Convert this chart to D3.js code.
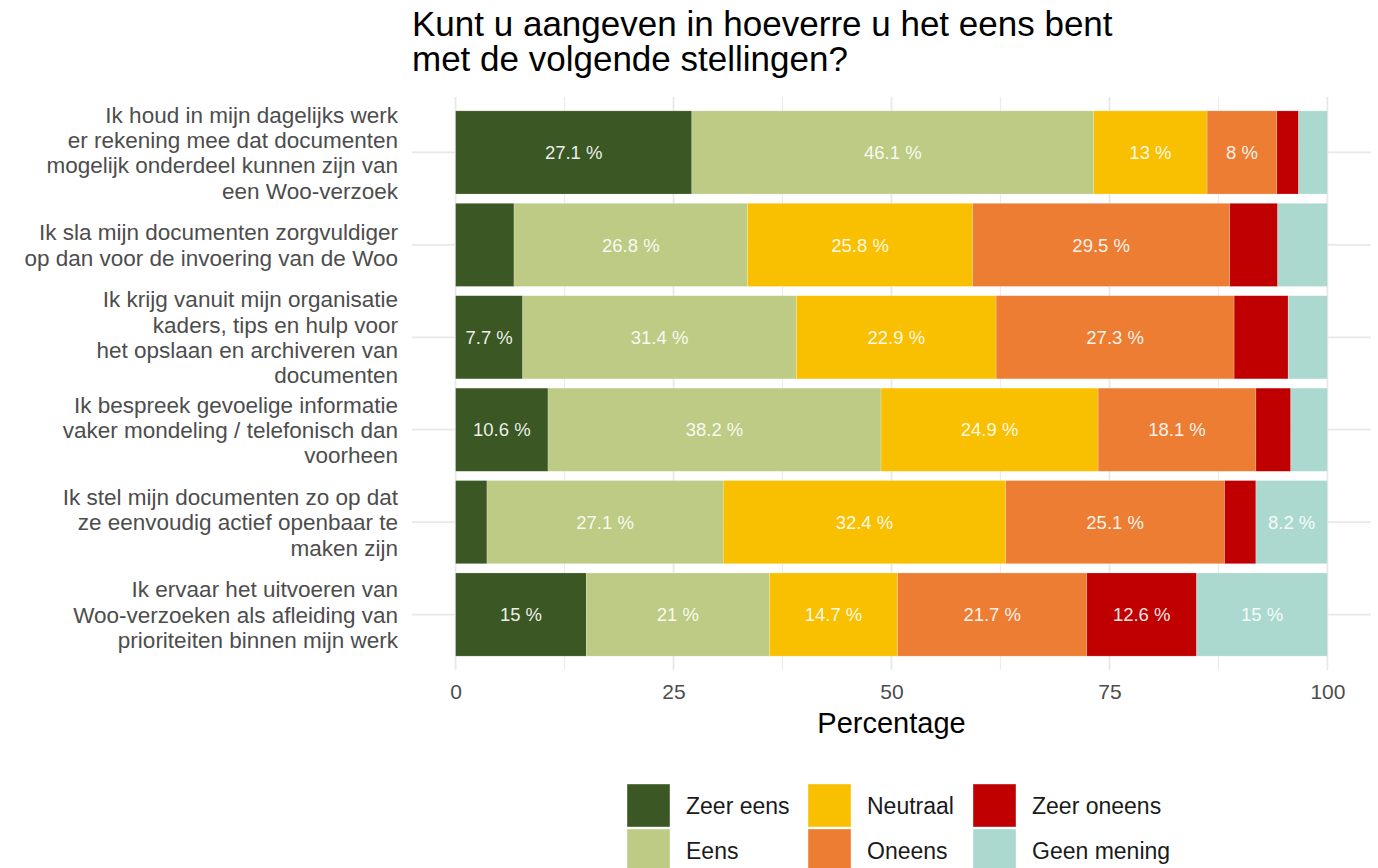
<!DOCTYPE html>
<html>
<head>
<meta charset="utf-8">
<script src="https://cdn.jsdelivr.net/npm/d3@7"></script>
<style>
  body { margin: 0; background: #fff; }
  text { font-family: "Liberation Sans", Arial, sans-serif; }
</style>
</head>
<body>
<svg id="chart" width="1378" height="868"></svg>
<script>
// stellingen (regels zoals in de grafiek afgebroken)
const statements = [
    ["Ik houd in mijn dagelijks werk", "er rekening mee dat documenten", "mogelijk onderdeel kunnen zijn van", "een Woo-verzoek"],
    ["Ik sla mijn documenten zorgvuldiger", "op dan voor de invoering van de Woo"],
    ["Ik krijg vanuit mijn organisatie", "kaders, tips en hulp voor", "het opslaan en archiveren van", "documenten"],
    ["Ik bespreek gevoelige informatie", "vaker mondeling / telefonisch dan", "voorheen"],
    ["Ik stel mijn documenten zo op dat", "ze eenvoudig actief openbaar te", "maken zijn"],
    ["Ik ervaar het uitvoeren van", "Woo-verzoeken als afleiding van", "prioriteiten binnen mijn werk"]
];
const answers = ["Zeer eens", "Eens", "Neutraal", "Oneens", "Zeer oneens", "Geen mening"];
const answerColors = ["#3b5724", "#bdcb84", "#f8c000", "#ec7d33", "#c00000", "#abd9cf"];

// percentages per stelling, volgorde = answers
const zeerEens   = [27.1, 6.7, 7.7, 10.6, 3.6, 15];
const eens       = [46.1, 26.8, 31.4, 38.2, 27.1, 21];
const neutraal   = [13, 25.8, 22.9, 24.9, 32.4, 14.7];
const oneens     = [8, 29.5, 27.3, 18.1, 25.1, 21.7];
const zeerOneens = [2.5, 5.5, 6.2, 4.0, 3.6, 12.6];
const geenMening = [3.3, 5.7, 4.5, 4.2, 8.2, 15];

const xTicks = [0, 25, 50, 75, 100];
const xMinor = [12.5, 37.5, 62.5, 87.5];

const series = [zeerEens, eens, neutraal, oneens, zeerOneens, geenMening];
const rows = statements.map((s, i) => {
    const r = { id: i };
    answers.forEach((a, j) => r[a] = series[j][i]);
    return r;
});

const svg = d3.select("#chart");
const panel = { left: 412, right: 1371, top: 97, bottom: 670 };

// ggplot-achtige uitbreiding van 5% aan beide kanten
const pw = panel.right - panel.left;
const x = d3.scaleLinear()
    .domain([0, 100])
    .range([panel.left + pw * 0.05 / 1.1, panel.right - pw * 0.05 / 1.1]);

const y = d3.scaleBand()
    .domain(rows.map(d => d.id))
    .range([panel.top, panel.bottom])
    .paddingInner(0.1)
    .paddingOuter(0.15);

const color = d3.scaleOrdinal().domain(answers).range(answerColors);

// rasterlijnen
const grid = svg.append("g");
grid.selectAll(".minor").data(xMinor).enter().append("line")
    .attr("x1", d => x(d)).attr("x2", d => x(d))
    .attr("y1", panel.top).attr("y2", panel.bottom)
    .attr("stroke", "#ebebeb").attr("stroke-width", 1.2);
grid.selectAll(".major").data(xTicks).enter().append("line")
    .attr("x1", d => x(d)).attr("x2", d => x(d))
    .attr("y1", panel.top).attr("y2", panel.bottom)
    .attr("stroke", "#e8e8e8").attr("stroke-width", 1.8);
grid.selectAll(".hline").data(rows).enter().append("line")
    .attr("x1", panel.left).attr("x2", panel.right)
    .attr("y1", d => y(d.id) + y.bandwidth() / 2)
    .attr("y2", d => y(d.id) + y.bandwidth() / 2)
    .attr("stroke", "#e8e8e8").attr("stroke-width", 1.8);

// gestapelde balken
const stacked = d3.stack().keys(answers)(rows);

const layers = svg.append("g").selectAll("g")
    .data(stacked)
    .enter().append("g")
    .attr("fill", d => color(d.key));

layers.selectAll("rect")
    .data(d => d)
    .enter().append("rect")
    .attr("x", d => x(d[0]))
    .attr("width", d => x(d[1]) - x(d[0]))
    .attr("y", d => y(d.data.id))
    .attr("height", y.bandwidth())
    .attr("stroke", "#ffffff")
    .attr("stroke-opacity", 0.35)
    .attr("stroke-width", 0.6);

layers.selectAll("text")
    .data(d => d.filter(p => p[1] - p[0] > 7))
    .enter().append("text")
    .attr("x", d => x((d[0] + d[1]) / 2))
    .attr("y", d => y(d.data.id) + y.bandwidth() / 2)
    .attr("dy", "0.36em")
    .attr("text-anchor", "middle")
    .attr("fill", "#ffffff")
    .attr("fill-opacity", 0.92)
    .style("font-size", "18.5px")
    .text(d => `${+(d[1] - d[0]).toFixed(1)} %`);

// x-as
const xAxis = svg.append("g")
    .attr("transform", `translate(0,${panel.bottom})`)
    .call(d3.axisBottom(x).tickValues(xTicks).tickSize(0).tickPadding(14).tickFormat(d3.format("d")));
xAxis.select(".domain").remove();
xAxis.selectAll("text")
    .style("font-size", "21px")
    .attr("fill", "#4d4d4d");

svg.append("text")
    .attr("x", (panel.left + panel.right) / 2)
    .attr("y", 733)
    .attr("text-anchor", "middle")
    .attr("fill", "#000")
    .style("font-size", "29px")
    .text("Percentage");

// y-as labels
const lineH = 25.3;
const yLabels = svg.append("g").selectAll("text")
    .data(rows)
    .enter().append("text")
    .attr("text-anchor", "end")
    .attr("fill", "#4d4d4d")
    .style("font-size", "22.5px");
yLabels.each(function (d) {
    const lines = statements[d.id];
    const cy = y(d.id) + y.bandwidth() / 2;
    const y0 = cy - (lines.length - 1) * lineH / 2;
    d3.select(this).selectAll("tspan")
        .data(lines)
        .enter().append("tspan")
        .attr("x", 398)
        .attr("y", (l, i) => y0 + i * lineH)
        .attr("dy", "0.36em")
        .text(l => l);
});

// titel
const titleLines = ["Kunt u aangeven in hoeverre u het eens bent", "met de volgende stellingen?"];
svg.append("g").selectAll("text")
    .data(titleLines)
    .enter().append("text")
    .attr("x", 412)
    .attr("y", (d, i) => 36 + i * 35)
    .attr("fill", "#000")
    .style("font-size", "35px")
    .text(d => d);

// legenda: 3 kolommen, gevuld per kolom
const legendCols = [627, 808, 973];
const legendRows = [784, 829];
const legend = svg.append("g").selectAll("g")
    .data(answers)
    .enter().append("g")
    .attr("transform", (d, i) => `translate(${legendCols[Math.floor(i / 2)]},${legendRows[i % 2]})`);
legend.append("rect")
    .attr("width", 43)
    .attr("height", 43)
    .attr("fill", d => color(d))
    .attr("stroke", "#ffffff")
    .attr("stroke-opacity", 0.5)
    .attr("stroke-width", 0.8);
legend.append("text")
    .attr("x", 59)
    .attr("y", 21.5)
    .attr("dy", "0.36em")
    .attr("fill", "#1a1a1a")
    .style("font-size", "23px")
    .text(d => d);
</script>
</body>
</html>
